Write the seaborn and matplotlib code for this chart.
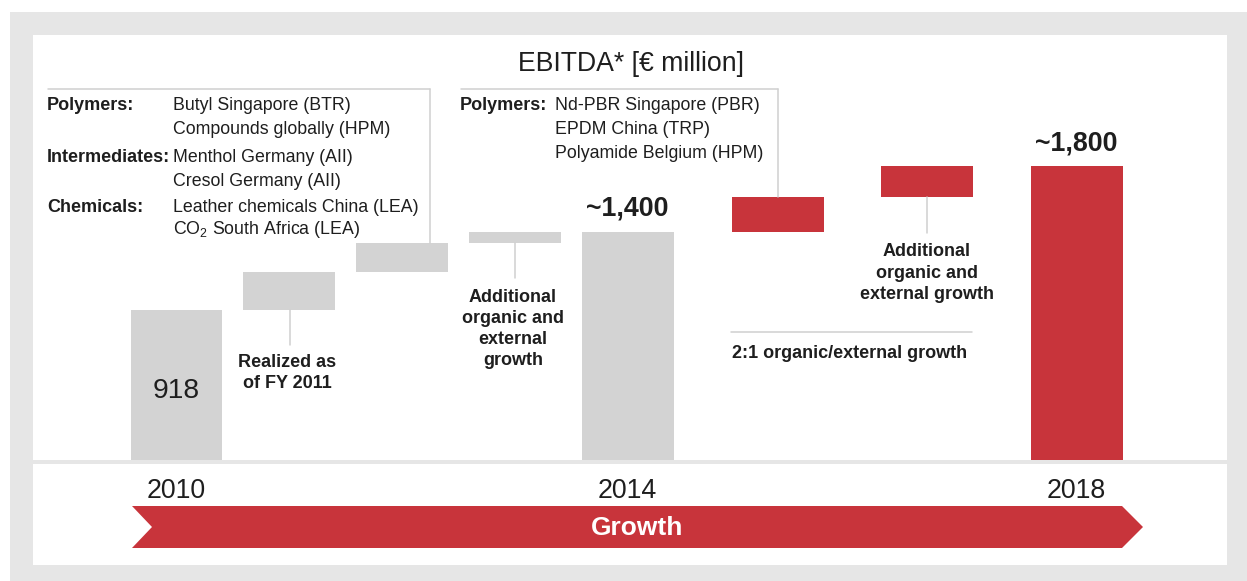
import numpy as np
import pandas as pd
import matplotlib
matplotlib.use("Agg")
import matplotlib.pyplot as plt
import matplotlib.transforms as mtransforms
from matplotlib.patches import Rectangle, Polygon
from matplotlib.lines import Line2D
import seaborn as sns

# ---------------- data ----------------
steps = ["2010", "Realized as of FY 2011", "Projects (Polymers, Intermediates, Chemicals)",
         "Additional organic and external growth", "2014", "Polymers projects",
         "Additional organic and external growth (2)", "2018"]
kinds = ["total", "delta", "delta", "delta", "total", "delta", "delta", "total"]
values = [918, 235, 180, 67, 1400, 210, 190, 1800]
phase = ["grey", "grey", "grey", "grey", "grey", "red", "red", "red"]
value_labels = ["918", "", "", "", "~1,400", "", "", "~1,800"]
years = ["2010", "2014", "2018"]

box1_heads = ["Polymers:", "", "Intermediates:", "", "Chemicals:", ""]
box1_items = ["Butyl Singapore (BTR)", "Compounds globally (HPM)", "Menthol Germany (AII)",
              "Cresol Germany (AII)", "Leather chemicals China (LEA)",
              r"CO$_\mathregular{2}$ South Africa (LEA)"]
box2_heads = ["Polymers:", "", ""]
box2_items = ["Nd-PBR Singapore (PBR)", "EPDM China (TRP)", "Polyamide Belgium (HPM)"]

# ---------------- layout / style ----------------
W, H = 1247, 581
slot_pos = [0, 1, 2, 3, 4, 5.33, 6.65, 7.98]
GREY = "#d3d3d3"
RED = "#c8343b"
BG = "#e6e6e6"
TXT = "#1e1e1e"
LINE = "#d0d0d0"
FS = 12.8      # small regular text
FSB = 13.0     # small bold text
LS = 1.32

sns.set_theme(style="white")
plt.rcParams["font.family"] = ["Liberation Sans", "DejaVu Sans"]
plt.rcParams["mathtext.fontset"] = "custom"
plt.rcParams["mathtext.rm"] = "Liberation Sans"

# waterfall geometry from values
bottoms, heights = [], []
running = 0
for k, v in zip(kinds, values):
    if k == "total":
        bottoms.append(0)
        heights.append(v)
        running = v
    else:
        bottoms.append(running)
        heights.append(v)
        running += v

fig = plt.figure(figsize=(W / 100, H / 100), dpi=100)
fig.patch.set_facecolor("white")
px = mtransforms.Affine2D().scale(1 / W, -1 / H).translate(0, 1) + fig.transFigure

# background panels
fig.add_artist(Rectangle((10, 12), W - 10, H - 12, transform=px, facecolor=BG, edgecolor="none", zorder=-3))
fig.add_artist(Rectangle((33, 35), 1227 - 33, 460 - 35, transform=px, facecolor="white", edgecolor="none", zorder=-2))
fig.add_artist(Rectangle((33, 464), 1227 - 33, 565 - 464, transform=px, facecolor="white", edgecolor="none", zorder=-2))

# main axes: upper white panel
ax = fig.add_axes([33 / W, (H - 460) / H, (1227 - 33) / W, (460 - 35) / H])
df = pd.DataFrame({"pos": slot_pos, "height": heights, "step": steps})
sns.barplot(data=df, x="pos", y="height", native_scale=True, width=0.815,
            bottom=bottoms, color=GREY, saturation=1, errorbar=None,
            linewidth=0, edgecolor="none", ax=ax)
for patch, ph in zip(ax.patches, phase):
    patch.set_facecolor(RED if ph == "red" else GREY)
ax.set_xlim(-1.272, 9.313)
ax.set_ylim(0, 2605)
ax.axis("off")

# value labels
for p, k, v, lab in zip(slot_pos, kinds, values, value_labels):
    if not lab:
        continue
    if lab == "918":
        ax.text(p, v * 0.46, lab, ha="center", va="center", fontsize=20.3, color=TXT)
    else:
        ax.annotate(lab, (p, v), xytext=(0, 16.5), textcoords="offset points",
                    ha="center", va="center", fontsize=19.3, fontweight="bold", color=TXT)

# year labels under total bars
yr_tr = mtransforms.blended_transform_factory(ax.transData, px)
total_pos = [p for p, k in zip(slot_pos, kinds) if k == "total"]
for p, y in zip(total_pos, years):
    ax.text(p, 491, y, transform=yr_tr, ha="center", va="center", fontsize=19.3,
            color=TXT, clip_on=False)

# title
fig.text(631, 64, "EBITDA* [€ million]", transform=px, ha="center", va="center",
         fontsize=19.2, color=TXT)


def line(xs, ys, color=LINE, lw=1.1):
    fig.add_artist(Line2D(xs, ys, transform=px, color=color, lw=lw, zorder=1))


# box 1
line([48, 430], [89, 89])
line([430, 430], [89, 243])
for i, (hd, it) in enumerate(zip(box1_heads, box1_items)):
    y = [106, 129, 158, 181, 207, 230][i]
    if hd:
        fig.text(47, y, hd, transform=px, ha="left", va="center", fontsize=FSB,
                 fontweight="bold", color=TXT)
    fig.text(173, y, it, transform=px, ha="left", va="center", fontsize=FS, color=TXT)

# box 2
line([461, 778], [89, 89])
line([778, 778], [89, 197])
for i, (hd, it) in enumerate(zip(box2_heads, box2_items)):
    y = [106, 129, 153][i]
    if hd:
        fig.text(460, y, hd, transform=px, ha="left", va="center", fontsize=FSB,
                 fontweight="bold", color=TXT)
    fig.text(555, y, it, transform=px, ha="left", va="center", fontsize=FS, color=TXT)

# step annotations
line([290, 290], [310, 345])
fig.text(287, 373, "Realized as\nof FY 2011", transform=px, ha="center", va="center",
         fontsize=FSB, fontweight="bold", color=TXT, linespacing=LS)
line([515, 515], [243, 278])
fig.text(513, 329, "Additional\norganic and\nexternal\ngrowth", transform=px, ha="center",
         va="center", fontsize=FSB, fontweight="bold", color=TXT, linespacing=LS)
line([927, 927], [197, 233])
fig.text(927, 273, "Additional\norganic and\nexternal growth", transform=px, ha="center",
         va="center", fontsize=FSB, fontweight="bold", color=TXT, linespacing=LS)
line([731, 972], [332, 332])
fig.text(732, 353, "2:1 organic/external growth", transform=px, ha="left", va="center",
         fontsize=FSB, fontweight="bold", color=TXT)

# growth arrow
arrow = Polygon([(132, 506), (1122, 506), (1143, 527), (1122, 548), (132, 548), (152, 527)],
                closed=True, transform=px, facecolor=RED, edgecolor="none", zorder=1)
fig.add_artist(arrow)
fig.text(637, 528, "Growth", transform=px, ha="center", va="center", fontsize=19,
         fontweight="bold", color="white", zorder=2)

fig.savefig("out.png", dpi=100, facecolor=fig.get_facecolor())
